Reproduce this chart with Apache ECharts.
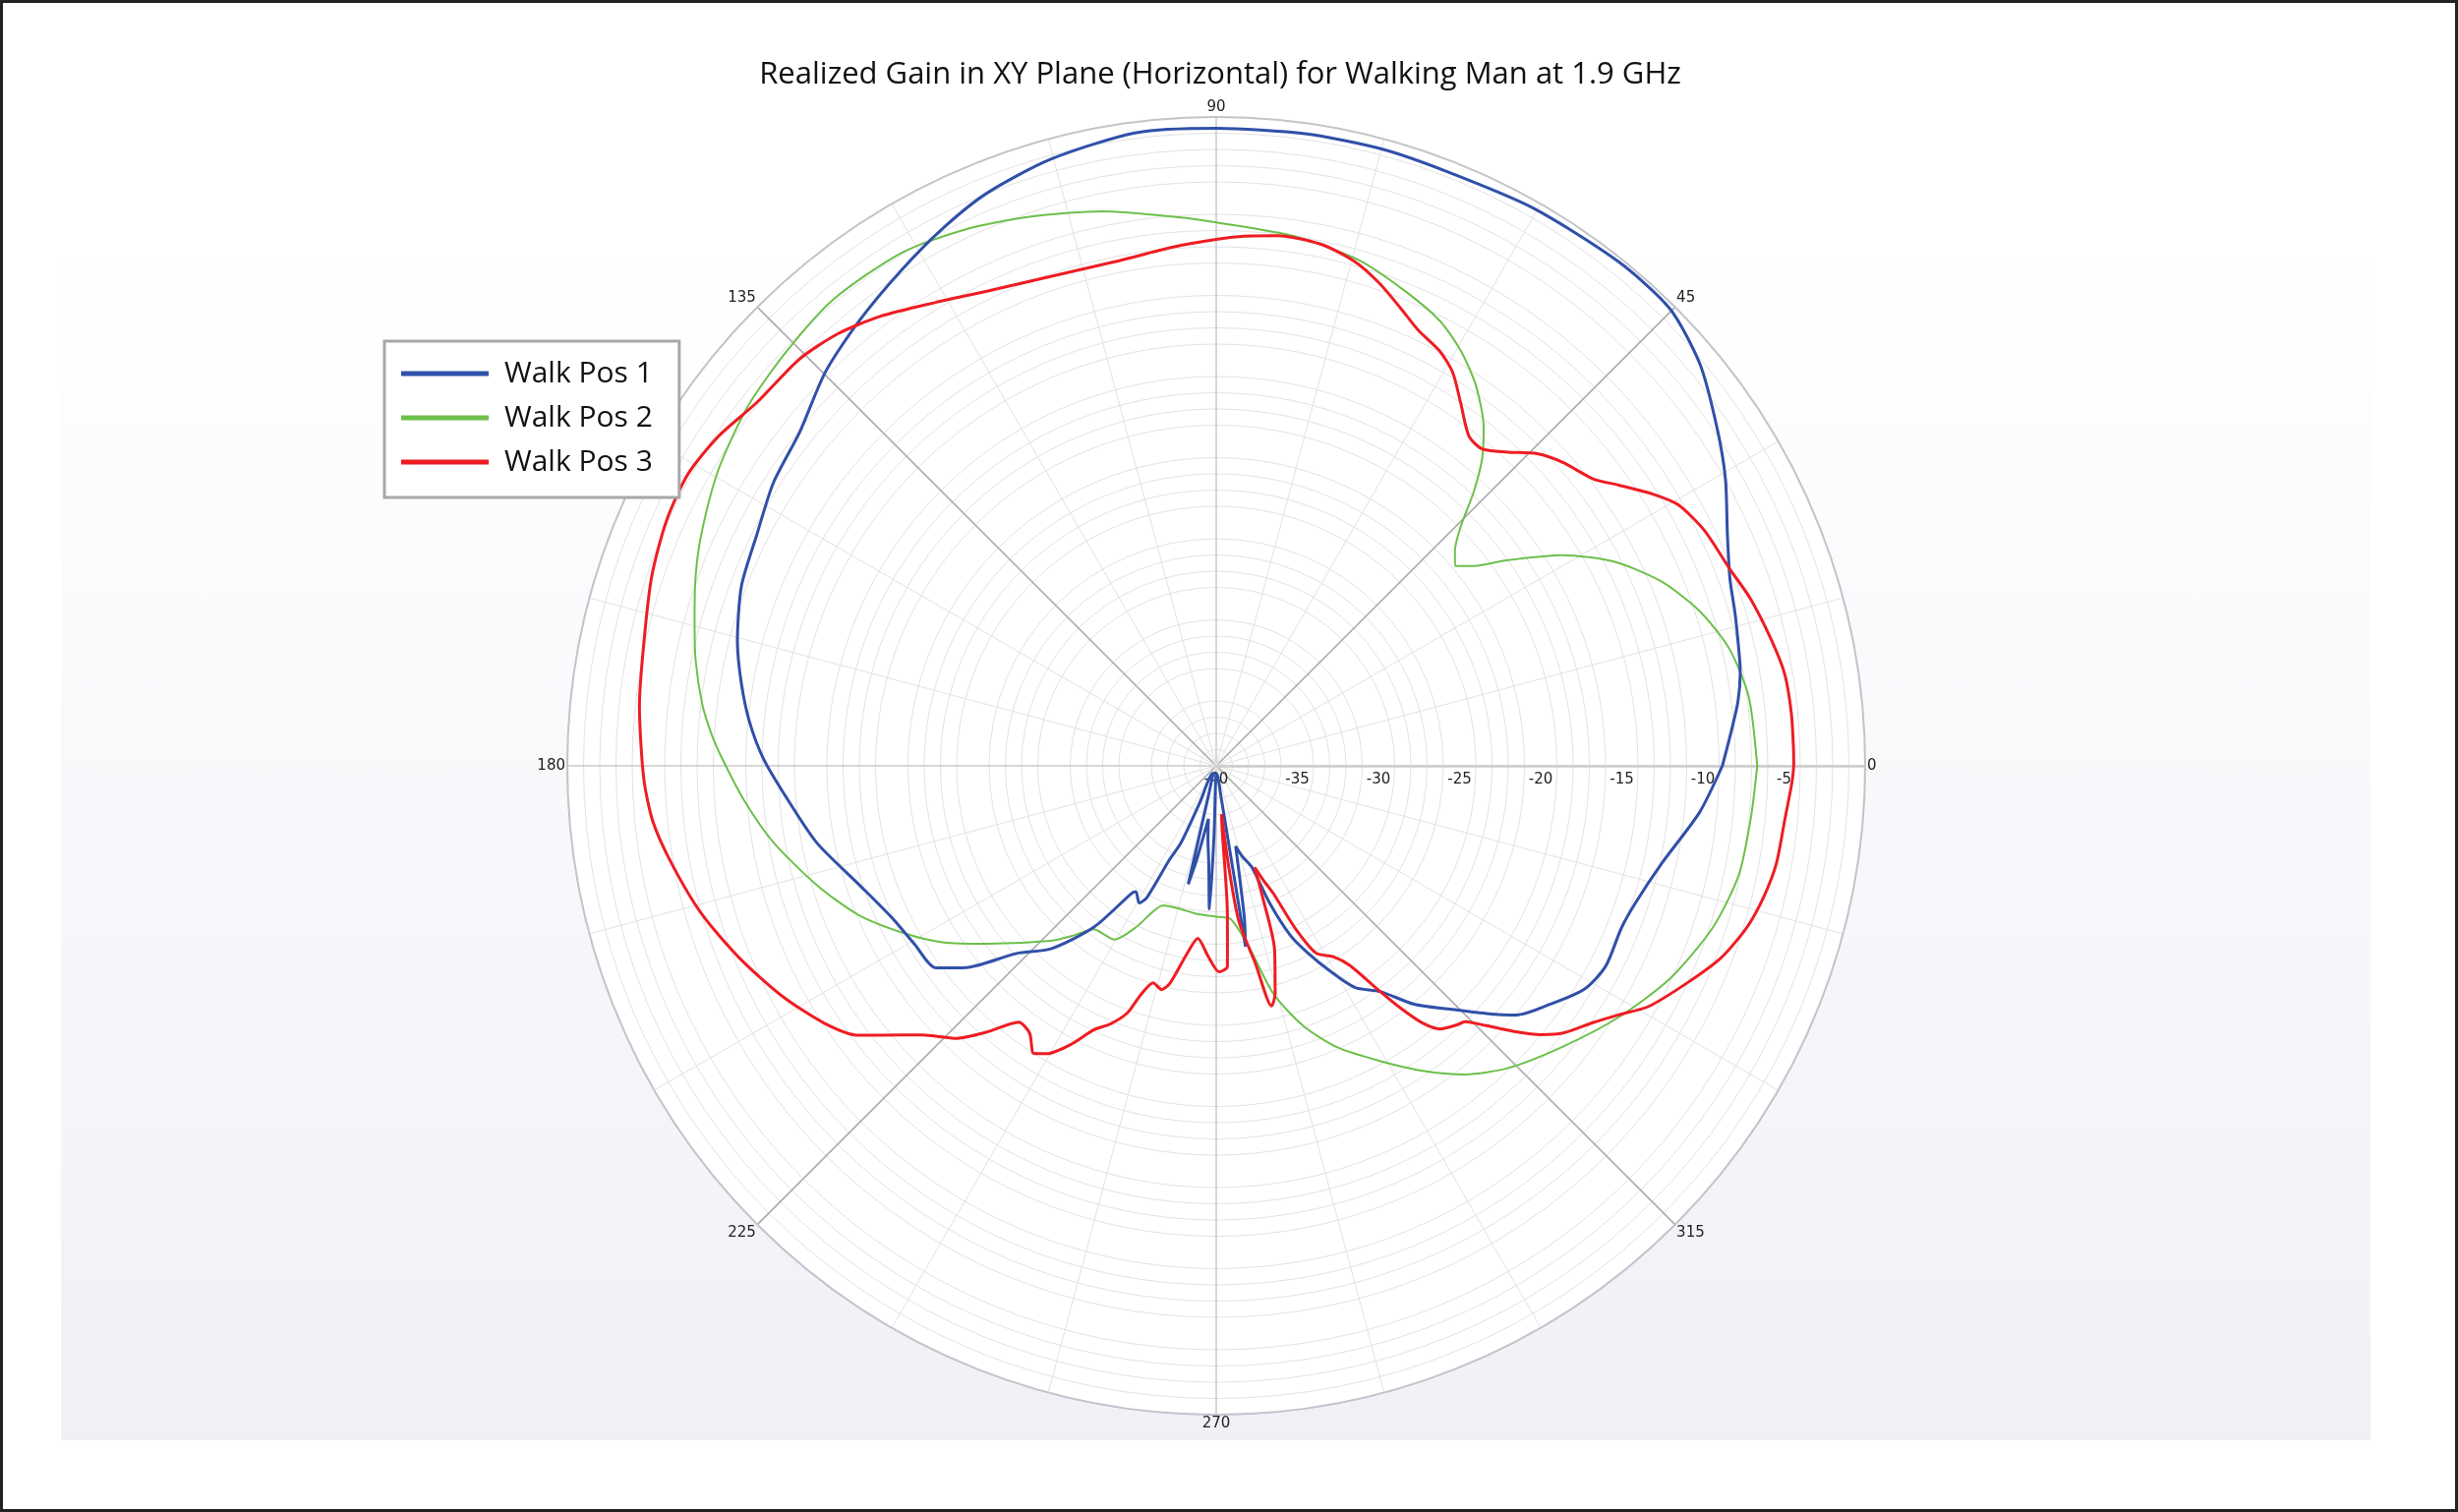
<!DOCTYPE html>
<html><head><meta charset="utf-8">
<script src="https://cdn.jsdelivr.net/npm/echarts/dist/echarts.min.js"></script>
<style>html,body{margin:0;padding:0;background:#fff}#chart{width:2500px;height:1538px}</style>
</head><body><div id="chart"></div>
<script>
const chartTitle = 'Realized Gain in XY Plane (Horizontal) for Walking Man at 1.9 GHz';
const seriesNames = ['Walk Pos 1', 'Walk Pos 2', 'Walk Pos 3'];
const seriesColors = ['#3050a8', '#6cc04a', '#ee1d23'];

// Walk Pos 1 (blue): angle in degrees, gain in dB
const pos1Angle = [0, 4, 7, 10, 16, 20, 24.4, 29.4, 34, 39.7, 45.2, 51.4, 60.4, 68.7, 75, 82, 90, 97.2, 105.3, 111.8,
  116.8, 122.4, 128.8, 134.8, 141.3, 147.4, 153.3, 159.2, 165.4, 170.2, 174.6, 179, 183.3, 190.8, 198.4, 205.3, 210.6,
  215.8, 218.9, 223.2, 227.9, 232.8, 236.5, 237.5, 240.7, 242.2, 243.5, 245.4, 246, 247.5, 252, 255.5, 256.7, 258.2,
  261.6, 263.5, 265.7, 267.3, 268.2, 269, 274, 278.8, 279.2, 280.5, 283.6, 286, 289.4, 291.2, 293.6, 296, 298.9, 302,
  306, 309.7, 313.6, 317.5, 320.3, 324.5, 328.8, 332.8, 338.2, 342, 347.6, 354.5, 360];
const pos1Gain = [-8.8, -8.15, -7.6, -7.2, -6.7, -6.3, -5.4, -3.97, -2.76, -1.24, -0.3, -0.24, -0.45, -0.7, -0.63, -0.65, -0.7, -0.66, -1.24, -1.97,
  -2.8, -3.8, -4.84, -5.8, -7.1, -7.6, -8.3, -8.7, -9.5, -10.3, -11.1, -12.06, -13.2, -14.9, -16.8, -17.95, -18.4,
  -18.7, -20.2, -23.1, -24.8, -27.5, -30.6, -30.8, -30.3, -30.8, -33.5, -34.8, -37.5, -39.5, -39.5, -38, -32.5, -34,
  -36.7, -35.5, -33.9, -31.15, -35.7, -39.5, -39.5, -38, -28.7, -30.5, -34.9, -34.2, -33.35, -31.0, -28.6, -27.2, -25.6, -23.9,
  -22.8, -20.9, -19.3, -17.4, -15.95, -14.7, -13.45, -13.0, -13.1, -12.8, -11.9, -10.07, -8.8];

// Walk Pos 2 (green)
const pos2Angle = [0, 7.4, 12.8, 17.7, 22.5, 27.1, 31.3, 35.2, 37.8, 39.9, 42, 44.4, 46.8, 49.2, 51.7, 55.7, 59.5, 63.3,
  68.3, 74.3, 81.6, 90, 93.9, 101.6, 108.8, 115, 121.5, 129.4, 136, 142.5, 149.3, 155.8, 160, 164.3, 168.5, 173.2, 176.5, 179, 184.1,
  189.8, 196.6, 202.6, 208.4, 213, 217.8, 226.6, 229.7, 233.1, 239.7, 243.6, 249.3, 255, 262.3, 270, 275.4, 280,
  284.1, 288.5, 293.3, 299, 304.1, 308.9, 314, 321, 328, 334.9, 342, 348.1, 354.1, 360];
const pos2Gain = [-6.65, -6.9, -7.55, -8.7, -10.3, -12.4, -15.0, -18.0, -19.9, -20.8, -20.2, -18.9, -16.8, -14.9, -13.4, -11.6, -10.3, -9.3,
  -8.5, -7.6, -7.0, -6.5, -6.1, -5.1, -4.25, -3.5, -2.9, -2.8, -3.2, -3.6, -4.3, -5.2, -5.85, -6.6, -7.25, -8.1, -8.85, -9.5, -10.8,
  -12.3, -14.3, -16.1, -18.24, -20.0, -22.1, -25.15, -26.25, -27.4, -27.6, -28.9, -30.8, -30.9, -30.8, -30.7, -30.5, -28.8,
  -25.5, -23.1, -21.1, -19.2, -17.3, -15.55, -14.1, -12.5, -10.75, -9.1, -7.8, -7.1, -6.9, -6.65];

// Walk Pos 3 (red)
const pos3Angle = [0, 1.8, 5.2, 9.1, 12.7, 17.4, 21, 25.8, 29.5, 31.9, 34.9, 37.3, 41.2, 44.2, 47.1, 50, 52.5, 56.1, 59,
  61.7, 65.1, 68, 71.3, 74.7, 78.7, 83.4, 87, 90, 94.6, 101.4, 108.7, 115.8, 121.2, 126.8, 131.2, 135.7, 141.6, 146.5,
  151.1, 156, 161.5, 167.7, 174, 181.2, 185.6, 190.2, 196.1, 201.9, 207.9, 213.3, 217, 218.7, 222.5, 226.4, 229.2,
  232.4, 235.1, 237.6, 239.5, 242.6, 245.1, 247.7, 250.2, 251.7, 253.8, 256.3, 258, 261.2, 263.9, 267.7, 270.8, 273.2,
  274.3, 275.3, 276.2, 277.1, 278.3, 281.2, 283, 284.5, 287.6, 289.5, 290.7, 292.5, 294.1, 295.9, 298.1, 301.5, 303.8,
  306, 307.3, 308.7, 310.4, 312.9, 314.2, 316.1, 318.4, 320.4, 322.4, 325.7, 328.3, 330.9, 335.2, 339.2, 343.1, 346.5,
  350.1, 354.5, 358.3, 360];
const pos3Gain = [-4.4, -4.4, -4.4, -4.5, -4.9, -5.5, -6.1, -6.6, -7.3, -8.3, -9.75, -10.8, -11.6, -12.4, -13.6, -14.5, -14.4, -13.0, -11.7,
  -10.95, -10.4, -9.6, -8.6, -7.75, -7.2, -7.1, -7.3, -7.55, -7.9, -8.3, -8.15, -7.5, -6.6, -5.4, -4.6, -4.1, -3.9, -3.2,
  -2.8, -2.9, -3.3, -3.9, -4.25, -4.7, -5.1, -5.9, -7.0, -8.3, -9.7, -11.1, -12.4, -13.45, -15.45, -16.8, -18.3,
  -20.05, -19.9, -19.0, -19.4, -20.7, -22.05, -22.8, -23.8, -25.1, -26.07, -25.8, -26.3, -28.3, -29.3, -28.2, -27.3, -27.6,
  -30.8, -36, -37, -33.6, -30.3, -27.6, -24.8, -25.5, -28.1, -31.5, -33.3, -32.3, -31.4, -28.9, -26.9, -26.2, -25.2,
  -22.8, -21.2, -19.7, -18.7, -18.2, -18.0, -16.9, -15.3, -14.0, -13.0, -11.9, -10.8, -9.5, -8.05, -6.7, -5.8, -5.3,
  -4.95, -4.8, -4.5, -4.4];

const radiusMin = -40, radiusMax = 0, radiusStep = 5;
const angleStep = 45;

function pairs(angles, gains) { return angles.map((a, i) => [gains[i], a]); }
const allAngles = [pos1Angle, pos2Angle, pos3Angle];
const allGains = [pos1Gain, pos2Gain, pos3Gain];
const widths = [3, 2, 3];

const chart = echarts.init(document.getElementById('chart'), null, {renderer: 'canvas'});
const labelFont = 'DejaVu Sans';
chart.setOption({
  animation: false,
  backgroundColor: '#ffffff',
  graphic: [
    {type: 'rect', z: -100, silent: true, shape: {x: 62, y: 260, width: 2349, height: 1205},
      style: {fill: new echarts.graphic.LinearGradient(0, 0, 0, 1, [{offset: 0, color: '#ffffff'}, {offset: 1, color: '#f0f1f7'}])}},
    {type: 'rect', z: 100, silent: true, shape: {x: 1.5, y: 1.5, width: 2497, height: 1535},
      style: {fill: 'none', stroke: '#222222', lineWidth: 3}}
  ],
  title: {
    text: chartTitle, left: 1236, top: 56, textAlign: 'center',
    textStyle: {fontFamily: 'Open Sans', fontSize: 31, fontWeight: 'normal', color: '#111111'}
  },
  legend: {
    data: seriesNames, orient: 'vertical', left: 391, top: 347,
    icon: 'rect', itemWidth: 89, itemHeight: 5, itemGap: 13,
    padding: [17, 27, 20, 17],
    backgroundColor: '#ffffff', borderColor: '#a8a8a8', borderWidth: 3, borderRadius: 0,
    textStyle: {fontFamily: 'Open Sans', fontSize: 30, color: '#111111', lineHeight: 32, padding: [0, 0, 0, 11]}
  },
  polar: {center: [1237, 779], radius: 660},
  angleAxis: {
    type: 'value', min: 0, max: 360, interval: angleStep, startAngle: 0, clockwise: false,
    axisLine: {show: true, lineStyle: {color: '#c4c4cc', width: 2}},
    axisTick: {show: false},
    axisLabel: {margin: 2, fontSize: 15, color: '#222222', fontFamily: labelFont,
      formatter: v => (v === 360 ? '' : String(v))},
    splitLine: {show: true, lineStyle: {color: ['#cccccc', '#acacac'], width: 1.6}},
    minorTick: {show: false, splitNumber: 3},
    minorSplitLine: {show: true, lineStyle: {color: '#e2e2e2', width: 1}}
  },
  radiusAxis: {
    type: 'value', min: radiusMin, max: radiusMax, interval: radiusStep,
    axisLine: {show: true, lineStyle: {color: '#cccccc', width: 2.5}},
    axisTick: {show: false},
    axisLabel: {showMaxLabel: false, fontSize: 15, color: '#222222', fontFamily: labelFont,
      margin: -7, verticalAlign: 'top', align: 'center'},
    splitLine: {show: true, lineStyle: {color: '#b0b0b0', width: 1.2}},
    minorTick: {show: false, splitNumber: 5},
    minorSplitLine: {show: true, lineStyle: {color: '#e2e2e2', width: 1}},
    splitArea: {show: true, areaStyle: {color: ['#ffffff']}}
  },
  series: seriesNames.map((name, i) => ({
    name: name, type: 'line', coordinateSystem: 'polar', showSymbol: false, symbol: 'none',
    smooth: 0.25, data: pairs(allAngles[i], allGains[i]),
    lineStyle: {color: seriesColors[i], width: widths[i]},
    itemStyle: {color: seriesColors[i]}, z: i === 1 ? 2 : 3
  }))
});
</script></body></html>
